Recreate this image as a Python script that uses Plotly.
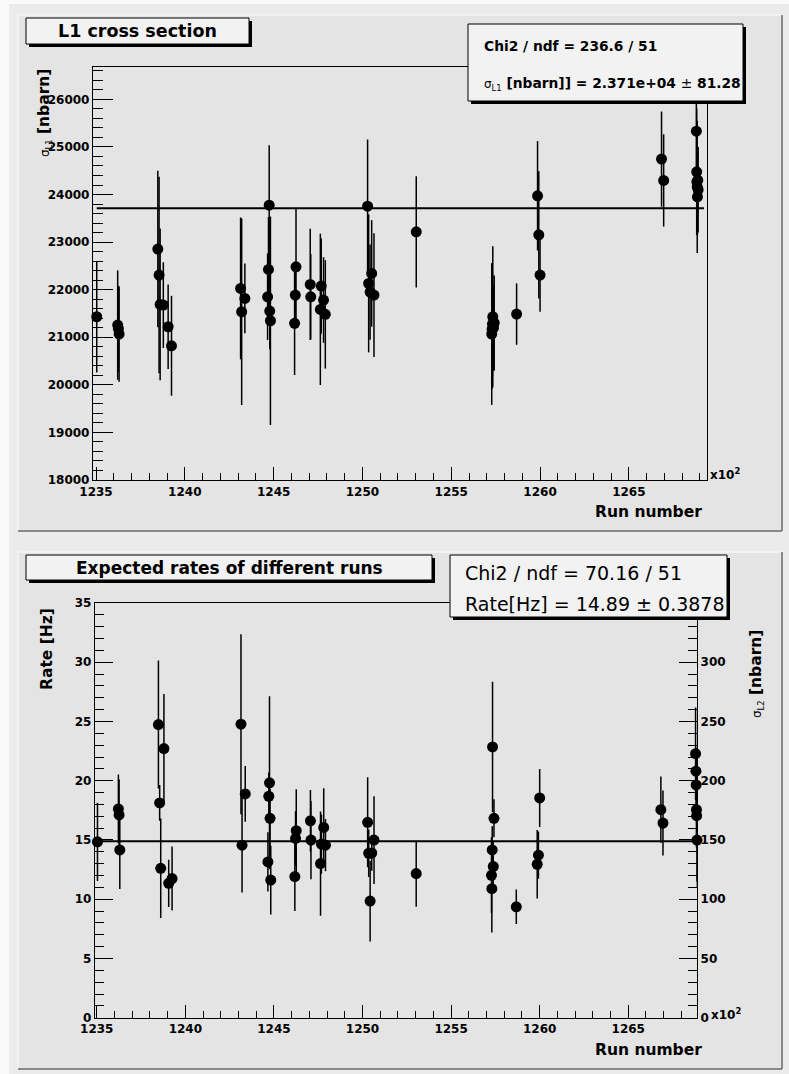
import plotly.graph_objects as go

# ---------------- data ----------------
runs = [
    1235.04,
    1236.22, 1236.26, 1236.30,
    1238.48, 1238.55, 1238.61, 1238.79, 1239.06, 1239.25,
    1243.14, 1243.20, 1243.38,
    1244.66, 1244.71, 1244.75, 1244.78, 1244.82,
    1246.18, 1246.22, 1246.26,
    1247.06, 1247.09, 1247.63, 1247.68, 1247.81, 1247.91,
    1250.29, 1250.35, 1250.43, 1250.52, 1250.65,
    1253.03,
    1257.28, 1257.30, 1257.32, 1257.34, 1257.38, 1257.42,
    1258.68,
    1259.86, 1259.93, 1260.00,
    1266.84, 1266.96,
    1268.80, 1268.82, 1268.83, 1268.85, 1268.86, 1268.88, 1268.90,
]

sigma_l1 = [
    21431,
    21256, 21180, 21067,
    22853, 22307, 21691, 21676, 21221, 20821,
    22027, 21536, 21817,
    21851, 22426, 23777, 21550, 21347,
    21292, 21887, 22481,
    22111, 21851, 21586, 22076, 21782, 21481,
    23756, 22132, 21950, 22342, 21887,
    23216,
    21067, 21166, 21277, 21431, 21200, 21300,
    21487,
    23973, 23153, 22307,
    24744, 24296,
    25332, 24477, 24267, 24162, 23952, 24300, 24100,
]
sigma_l1_err = [
    1170,
    1150, 900, 1000,
    1645, 2065, 1597, 900, 890, 1050,
    1490, 1960, 735,
    910, 1100, 1260, 800, 2190,
    1086, 700, 1230,
    1170, 900, 1590, 1000, 900, 1140,
    1400, 1450, 1000, 1120, 1300,
    1170,
    1490, 1250, 1100, 1480, 900, 1000,
    645,
    1150, 1336, 770,
    1000, 970,
    900, 1330, 900, 1390, 800, 700, 900,
]

rate = [
    14.84,
    17.62, 17.11, 14.16,
    24.74, 18.13, 12.61, 22.71, 11.34, 11.74,
    24.77, 14.56, 18.89,
    13.15, 18.69, 19.82, 16.83, 11.62,
    11.91, 15.13, 15.78,
    16.62, 14.99, 13.01, 14.65, 16.06, 14.56,
    16.49, 13.88, 9.84, 13.90, 14.99,
    12.16,
    12.02, 10.89, 14.16, 22.85, 12.76, 16.83,
    9.36,
    12.95, 13.72, 18.55,
    17.56, 16.43,
    22.28, 20.81, 19.65, 17.56, 17.05, 14.99, 13.38,
]
rate_err = [
    3.3,
    2.9, 3.0, 3.3,
    5.4, 1.5, 4.2, 4.6, 2.0, 2.7,
    7.6, 4.0, 2.35,
    2.5, 2.0, 7.3, 2.5, 2.9,
    2.9, 2.3, 3.5,
    2.6, 3.3, 4.4, 2.5, 3.3, 2.2,
    3.8, 2.0, 3.4, 1.5, 3.7,
    2.8,
    3.2, 3.7, 2.0, 5.5, 2.2, 1.6,
    1.45,
    2.9, 2.0, 2.45,
    2.8, 2.75,
    3.9, 2.0, 2.5, 3.2, 2.0, 3.5, 2.4,
]

fit_l1 = 23710.0          # 2.371e+04
fit_l1_range = [1235.04, 1269.23]
fit_rate = 14.89
fit_rate_range = [1234.90, 1268.88]
rate_to_sigma_l2 = 10.0   # right-hand axis scale factor
sigma_l2_ticks = [0, 50, 100, 150, 200, 250, 300]

# ---------------- geometry helpers ----------------
W, H = 789, 1074


def px(x):
    return x / W


def py(y):
    return 1 - y / H


TICKFONT = dict(family="DejaVu Sans", size=12, color="black", weight="bold")

fig = go.Figure()

# top panel
fig.add_trace(go.Scatter(
    x=runs, y=sigma_l1, mode="markers", xaxis="x", yaxis="y",
    marker=dict(color="black", size=11),
    error_y=dict(type="data", array=sigma_l1_err, color="black", thickness=1.5, width=0),
    cliponaxis=False, hoverinfo="skip"))
fig.add_trace(go.Scatter(
    x=fit_l1_range, y=[fit_l1, fit_l1], mode="lines", xaxis="x", yaxis="y",
    line=dict(color="black", width=2), hoverinfo="skip"))

# bottom panel
fig.add_trace(go.Scatter(
    x=runs, y=rate, mode="markers", xaxis="x2", yaxis="y2",
    marker=dict(color="black", size=11),
    error_y=dict(type="data", array=rate_err, color="black", thickness=1.5, width=0),
    cliponaxis=False, hoverinfo="skip"))
fig.add_trace(go.Scatter(
    x=fit_rate_range, y=[fit_rate, fit_rate], mode="lines", xaxis="x2", yaxis="y2",
    line=dict(color="black", width=2), hoverinfo="skip"))
fig.add_trace(go.Scatter(
    x=runs, y=[r * rate_to_sigma_l2 for r in rate], mode="markers", xaxis="x2", yaxis="y3",
    marker=dict(color="rgba(0,0,0,0)", size=1), hoverinfo="skip"))


def xaxis_common(domain, rng, anchor):
    return dict(
        domain=domain, range=rng, anchor=anchor, tick0=1235, dtick=5,
        ticks="inside", ticklen=13, tickwidth=1, tickcolor="black",
        minor=dict(tick0=1235, dtick=1, ticks="inside", ticklen=7, tickwidth=1,
                   tickcolor="black", showgrid=False),
        showline=True, linecolor="black", linewidth=1.3, mirror=True,
        showgrid=False, zeroline=False, tickfont=TICKFONT, tickformat="d",
        automargin=False,
    )


fig.update_layout(
    template="none",
    width=W, height=H, margin=dict(l=0, r=0, t=0, b=0, pad=0, autoexpand=False),
    showlegend=False,
    paper_bgcolor="#ebebeb", plot_bgcolor="rgba(0,0,0,0)",
    xaxis=xaxis_common([px(93), px(707)], [1234.83, 1269.4], "y"),
    yaxis=dict(
        domain=[py(480), py(67)], range=[18000, 26680], anchor="x",
        tick0=18000, dtick=1000, ticks="inside", ticklen=20, tickwidth=1, tickcolor="black",
        minor=dict(tick0=18000, dtick=200, ticks="inside", ticklen=10, tickwidth=1,
                   tickcolor="black", showgrid=False),
        showline=True, linecolor="black", linewidth=1.3, mirror=True,
        showgrid=False, zeroline=False, tickfont=TICKFONT, tickformat="d",
        automargin=False,
    ),
    xaxis2=xaxis_common([px(95), px(697)], [1234.90, 1268.88], "y2"),
    yaxis2=dict(
        domain=[py(1017.7), py(603)], range=[0, 35], anchor="x2",
        tick0=0, dtick=5, ticks="inside", ticklen=18, tickwidth=1, tickcolor="black",
        minor=dict(tick0=0, dtick=1, ticks="inside", ticklen=9, tickwidth=1,
                   tickcolor="black", showgrid=False),
        showline=True, linecolor="black", linewidth=1.3, mirror=True,
        showgrid=False, zeroline=False, tickfont=TICKFONT, tickformat="d",
        automargin=False,
    ),
    yaxis3=dict(
        overlaying="y2", side="right", anchor="x2", range=[0, 350],
        tickmode="array", tickvals=sigma_l2_ticks,
        ticks="inside", ticklen=18, tickwidth=1, tickcolor="black",
        minor=dict(tick0=0, dtick=10, ticks="inside", ticklen=9, tickwidth=1,
                   tickcolor="black", showgrid=False),
        showline=True, linecolor="black", linewidth=1.3,
        showgrid=False, zeroline=False, tickfont=TICKFONT, tickformat="d",
        automargin=False,
    ),
)

shapes = []


def rect(x0, y0, x1, y1, fill, line_color=None, lw=0, layer="above"):
    shapes.append(dict(
        type="rect", xref="paper", yref="paper",
        x0=px(x0), x1=px(x1), y0=py(y1), y1=py(y0),
        fillcolor=fill, layer=layer,
        line=dict(color=line_color or fill, width=lw)))


def line(x0, y0, x1, y1, color, lw, layer="below"):
    shapes.append(dict(
        type="line", xref="paper", yref="paper",
        x0=px(x0), x1=px(x1), y0=py(y0), y1=py(y1),
        layer=layer, line=dict(color=color, width=lw)))


# canvas edges
rect(0, 0, 9, H, "#fafafa", layer="below")
rect(0, 0, W, 4, "#fafafa", layer="below")

# pads
for (t, b) in [(15, 531), (552, 1069)]:
    rect(18, t, 782, b, "#e4e4e4", layer="below")
    line(18, t, 782, t, "#f6f6f6", 1.5)
    line(18, t, 18, b, "#f6f6f6", 1.5)
    line(18, b, 782, b, "#6a6a6a", 1.5)
    line(782, t, 782, b, "#6a6a6a", 1.5)


def box(x0, y0, x1, y1):
    rect(x0 + 3, y0 + 3, x1 + 3, y1 + 3, "black")
    rect(x0, y0, x1, y1, "#f2f2f2", "black", 1)


box(26, 18, 249, 44)       # top title
box(468, 24, 743, 101)     # top stats
box(26, 555, 432, 580)     # bottom title
box(450, 555, 727, 617)    # bottom stats

fig.update_layout(shapes=shapes)

ann = []


def text(x, y, s, size, bold=True, family="DejaVu Sans", xanchor="left",
         yanchor="middle", angle=0):
    ann.append(dict(
        xref="paper", yref="paper", x=px(x), y=py(y), text=s, showarrow=False,
        xanchor=xanchor, yanchor=yanchor, textangle=angle,
        font=dict(family=family, size=size, color="black",
                  weight="bold" if bold else "normal")))


SIG = "<span style='font-size:12px;font-weight:normal'>σ<sub>{}</sub></span>"

text(137.5, 31, "L1 cross section", 17.5, xanchor="center")
text(481.7, 46, "Chi2 / ndf = 236.6 / 51", 13.8)
text(481.7, 84, SIG.format("L1") + " [nbarn]] = 2.371e+04 <span style='font-weight:normal'>±</span> 81.28", 13.8)
text(229, 567.5, "Expected rates of different runs", 17, xanchor="center")
text(462.7, 573, "Chi2 / ndf = 70.16 / 51", 19, bold=False)
text(462.7, 603.5, "Rate[Hz] = 14.89 ± 0.3878", 19, bold=False)

text(703.5, 512, "Run number", 15.5, xanchor="right")
text(703.5, 1050, "Run number", 15.5, xanchor="right")
text(708, 474, "x10<sup>2</sup>", 12)
text(709, 1014, "x10<sup>2</sup>", 12)

text(45, 67, SIG.format("L1") + " [nbarn]", 15.5, xanchor="center", yanchor="top", angle=-90)
text(47, 606, "Rate [Hz]", 15.5, xanchor="center", yanchor="top", angle=-90)
text(756, 628, SIG.format("L2") + " [nbarn]", 15.5, xanchor="center", yanchor="top", angle=-90)

fig.update_layout(annotations=ann)

fig.write_html(
    "out.html",
    config={"displayModeBar": False},
    post_script="document.body.style.margin='0px';document.body.style.overflow='hidden';",
)
